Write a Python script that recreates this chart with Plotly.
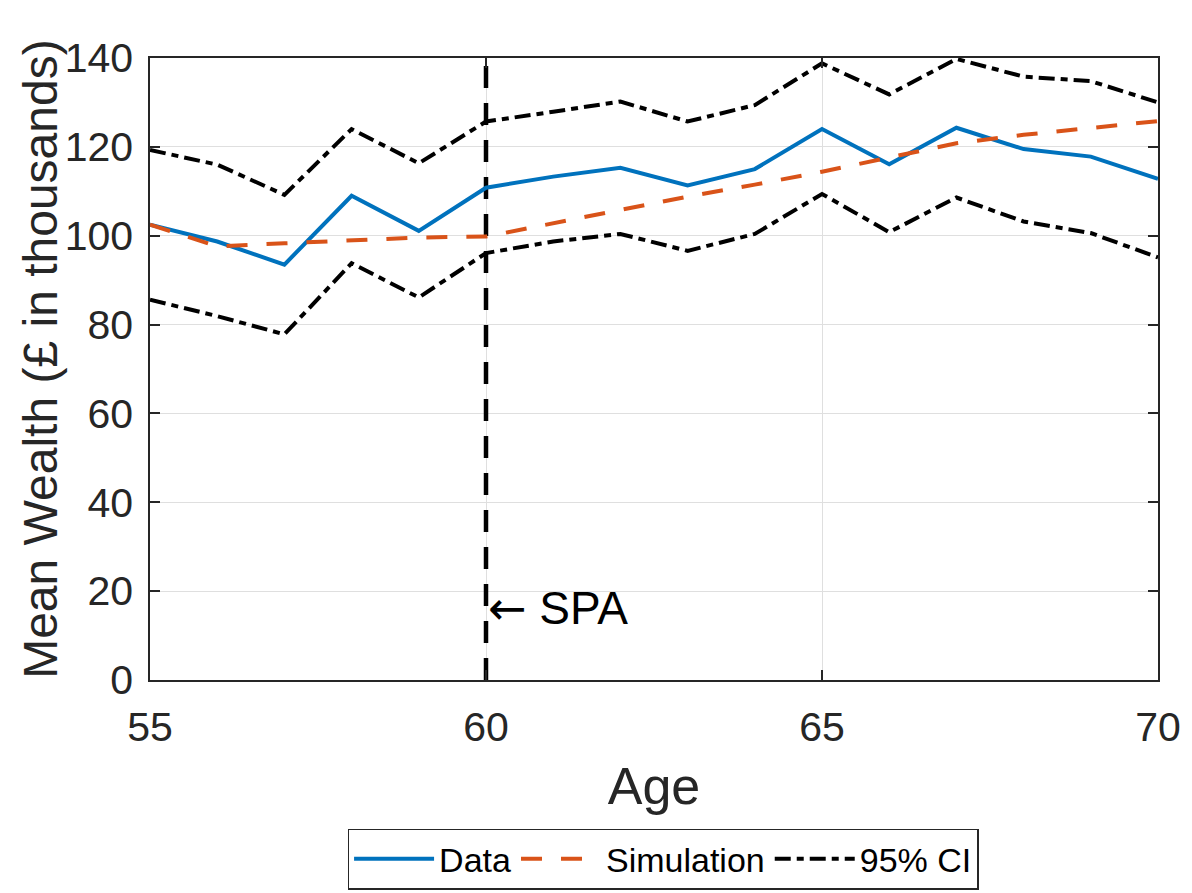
import plotly.graph_objects as go

ages = list(range(55, 71))
data_vals = [102.5, 98.7, 93.5, 109.0, 101.1, 110.8, 113.3, 115.3, 111.3, 115.0, 124.0, 116.1, 124.3, 119.5, 117.8, 112.8]
sim_vals = [102.5, 97.6, 98.3, 99.0, 99.6, 99.8, 102.8, 105.8, 108.8, 111.5, 114.4, 117.6, 120.8, 122.7, 124.3, 125.8]
ci_upper = [119.3, 116.0, 109.2, 124.0, 116.3, 125.7, 127.9, 130.2, 125.7, 129.4, 138.8, 131.8, 139.8, 135.8, 134.8, 130.0]
ci_lower = [85.6, 81.9, 77.8, 93.8, 86.1, 96.1, 98.7, 100.4, 96.6, 100.4, 109.4, 100.8, 108.6, 103.2, 100.6, 95.1]
spa_age = 60
y_ticks = [0, 20, 40, 60, 80, 100, 120, 140]
x_ticks = [55, 60, 65, 70]

FONT = "Liberation Sans, Arial, sans-serif"
TXT = "#262626"

fig = go.Figure()
fig.add_trace(go.Scatter(x=[spa_age, spa_age], y=[0, 140], mode="lines",
                         line=dict(color="black", width=4.5, dash="22px,15px"),
                         showlegend=False, hoverinfo="skip"))
fig.add_trace(go.Scatter(x=ages, y=data_vals, mode="lines", name="Data",
                         line=dict(color="#0072BD", width=4)))
fig.add_trace(go.Scatter(x=ages, y=sim_vals, mode="lines", name="Simulation",
                         line=dict(color="#D95319", width=4, dash="21px,19px")))
fig.add_trace(go.Scatter(x=ages, y=ci_upper, mode="lines", name="95% CI",
                         line=dict(color="black", width=4, dash="16px,6px,7px,6px")))
fig.add_trace(go.Scatter(x=ages, y=ci_lower, mode="lines", name="95% CI lower",
                         line=dict(color="black", width=4, dash="16px,6px,7px,6px"),
                         showlegend=False))

fig.add_annotation(x=spa_age, y=16.2, xref="x", yref="y",
                   text="<span style='font-family:DejaVu Sans;font-size:46px'>←</span> SPA",
                   showarrow=False, xanchor="left", yanchor="middle", xshift=0,
                   font=dict(family=FONT, size=46, color="black"))

# y-axis title placed as annotation to match position
fig.add_annotation(x=-0.108, y=0.515, xref="paper", yref="paper",
                   text="Mean Wealth (£ in thousands)", textangle=-90,
                   showarrow=False, xanchor="center", yanchor="middle",
                   font=dict(family=FONT, size=48, color=TXT))

fig.update_layout(
    width=1192, height=893,
    margin=dict(l=142, r=42, t=50, b=221, autoexpand=False),
    paper_bgcolor="white", plot_bgcolor="white",
    font=dict(family=FONT, color=TXT),
    legend=dict(orientation="h", x=0.509, xanchor="center",
                yref="container", y=0.081, yanchor="top",
                bordercolor="#262626", borderwidth=1.5, bgcolor="white",
                font=dict(family=FONT, size=34, color="black"),
                itemwidth=80, tracegroupgap=0),
)
fig.update_xaxes(range=[55, 70], tickvals=x_ticks, ticks="inside", ticklen=10, tickwidth=1.5,
                 tickcolor=TXT, showline=True, linecolor=TXT, linewidth=1.5, mirror="ticks",
                 showgrid=True, gridcolor="#DFDFDF", gridwidth=1, zeroline=False,
                 tickfont=dict(size=41, color=TXT), ticklabelstandoff=10,
                 title=dict(text="Age", font=dict(size=52, color=TXT), standoff=19))
fig.update_yaxes(range=[0, 140], tickvals=y_ticks, ticks="inside", ticklen=10, tickwidth=1.5,
                 tickcolor=TXT, showline=True, linecolor=TXT, linewidth=1.5, mirror="ticks",
                 showgrid=True, gridcolor="#DFDFDF", gridwidth=1, zeroline=False,
                 tickfont=dict(size=41, color=TXT), ticklabelstandoff=7)

fig.write_html("out.html")
